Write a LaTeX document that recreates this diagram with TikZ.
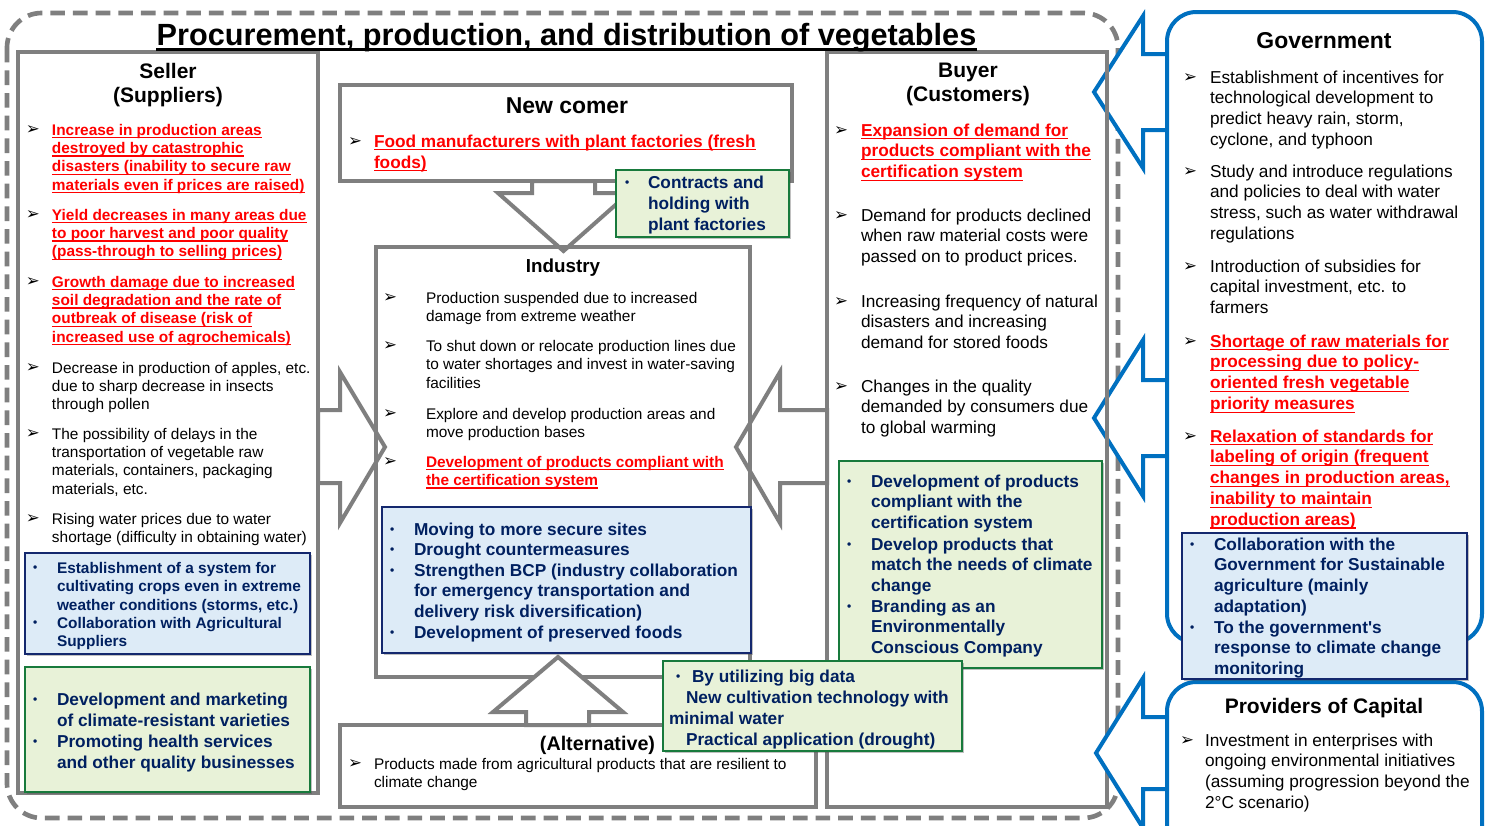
\documentclass[tikz,border=0pt]{standalone}
\usepackage{fontspec}
\setmainfont{Liberation Sans}[Ligatures=TeXOff]
\newfontfamily\dejavu{DejaVu Sans}
\usetikzlibrary{shadows}
\newdimen\px \px=0.75pt
\definecolor{bxgray}{RGB}{127,127,127}
\definecolor{mblue}{RGB}{0,112,192}
\definecolor{navy}{RGB}{0,32,96}
\definecolor{bfill}{RGB}{221,235,247}
\definecolor{gfill}{RGB}{232,242,216}
\definecolor{gline}{RGB}{24,122,60}
\definecolor{bline}{RGB}{20,40,110}
\definecolor{ured}{RGB}{255,0,0}
\newsavebox\ulbox
\newcommand\R[1]{{\color{ured}\bfseries\sbox\ulbox{#1}\rlap{\usebox\ulbox}\rule[-2.5pt]{\wd\ulbox}{0.9pt}}}
\newcommand\ARB{\raisebox{0.3pt}{\dejavu\fontsize{12.5}{12.5}\selectfont ➢}}
\newcommand\DTB{\raisebox{1pt}{\fontsize{9}{9}\selectfont •}}
\newcommand\itm[6][]{\node[itm,#1] (#2) at (#3,#4) {\parbox[t]{600\px}{\hangindent=#5\px\hangafter=1\noindent\makebox[#5\px][l]{\ARB}#6}};}
\newcommand\ditm[6][]{\node[itm,#1] (#2) at (#3,#4) {\parbox[t]{600\px}{\hangindent=#5\px\hangafter=1\noindent\makebox[#5\px][l]{\DTB}#6}};}
\begin{document}
\begin{tikzpicture}[x=0.75pt,y=-0.75pt,
 itm/.style={anchor=base west,inner sep=0pt,outer sep=0pt},
 sm/.style={font=\fontsize{11.55}{13.75}\selectfont},
 smb/.style={font=\fontsize{11.55}{13.9}\selectfont\bfseries,text=navy},
 bg/.style={font=\fontsize{12.94}{15.6}\selectfont},
 bgb/.style={font=\fontsize{12.94}{15.6}\selectfont\bfseries,text=navy},
 gbox/.style={draw=bxgray,line width=3pt,fill=white},
 garrow/.style={draw=bxgray,line width=3pt,fill=white,line join=miter},
 barrow/.style={draw=mblue,line width=3pt,fill=white,line join=miter},
 shd/.style={drop shadow={shadow xshift=1.5pt,shadow yshift=-1.5pt,opacity=0.35,fill=black!70}},
 bluebox/.style={draw=bline,line width=1.5pt,fill=bfill,shd},
 greenbox/.style={draw=gline,line width=1.5pt,fill=gfill,shd},
 rbox/.style={draw=mblue,line width=3pt,fill=white,rounded corners=22pt},
 hdr/.style={anchor=base,inner sep=0pt}
]
\useasboundingbox (0,0) rectangle (1489,825);
\fill[white] (0,0) rectangle (1489,825);
\begin{scope}
\clip (0,0) rectangle (1489,825);
% outer dashed frame
\draw[bxgray,line width=3.5pt,dash pattern=on 11pt off 6pt,rounded corners=26pt] (7,13) rectangle (1118,818);
% main gray boxes
\draw[gbox] (18,52) rectangle (318,793);
\draw[gbox] (827,52) rectangle (1107,807);
\draw[gbox] (340,85) rectangle (792,181);
\draw[gbox] (340,725) rectangle (816,807);
\fill[white] (376,247) rectangle (750,677);
% gray block arrows
\draw[garrow] (318,410) -- (340,410) -- (340,372) -- (385,447) -- (340,523) -- (340,483) -- (318,483) -- cycle;
\draw[garrow] (827,410) -- (780,410) -- (780,372) -- (736,447) -- (780,523) -- (780,483) -- (827,483) -- cycle;
\draw[garrow] (532,181) -- (532,193) -- (498,193) -- (563.5,251) -- (629,193) -- (595,193) -- (595,181) -- cycle;
\draw[bxgray,line width=3pt] (376,247) rectangle (750,677);
\draw[garrow] (526,725) -- (526,712) -- (493,712) -- (558,657) -- (623,712) -- (589,712) -- (589,725) -- cycle;
% coloured boxes
\draw[bluebox] (25,553) rectangle (310,654);
\draw[greenbox] (25,667) rectangle (310,792);
\draw[greenbox] (616,170) rectangle (789,237);
\draw[bluebox] (382,507) rectangle (751,653);
\draw[greenbox] (839,461) rectangle (1102,668);
\draw[greenbox] (663,661) rectangle (962,751);
% blue block arrows
\draw[barrow] (1167,54) -- (1143,54) -- (1143,16) -- (1094,92) -- (1143,168) -- (1143,130) -- (1167,130) -- cycle;
\draw[barrow] (1167,380) -- (1143,380) -- (1143,340) -- (1094,418) -- (1143,496) -- (1143,456) -- (1167,456) -- cycle;
\draw[barrow] (1167,717) -- (1143,717) -- (1143,678) -- (1096,753) -- (1143,828) -- (1143,789) -- (1167,789) -- cycle;
\draw[bxgray,line width=3pt] (1107,52) -- (1107,461);
% government and capital boxes
\draw[rbox] (1167,12) rectangle (1482,643);
\draw[rbox] (1167,682) rectangle (1482,880);
\draw[bluebox] (1182,533) rectangle (1467,679);
\end{scope}
% title
\node[hdr,font=\fontsize{23}{27}\selectfont\bfseries] (title) at (566.5,45) {Procurement, production, and distribution of vegetables};
\draw[line width=2.2pt] ([yshift=-3.4pt]title.base west) -- ([yshift=-3.4pt]title.base east);
% seller
\node[hdr,font=\fontsize{15.75}{18}\selectfont\bfseries] (sellh) at (168,78) {\parbox[t]{280\px}{\centering Seller\\(Suppliers)}};
\itm[sm]{s1}{26}{135}{26}{\R{Increase in production areas}\\\R{destroyed by catastrophic}\\\R{disasters (inability to secure raw}\\\R{materials even if prices are raised)}}
\itm[sm]{s2}{26}{220}{26}{\R{Yield decreases in many areas due}\\\R{to poor harvest and poor quality}\\\R{(pass-through to selling prices)}}
\itm[sm]{s3}{26}{287}{26}{\R{Growth damage due to increased}\\\R{soil degradation and the rate of}\\\R{outbreak of disease (risk of}\\\R{increased use of agrochemicals)}}
\itm[sm]{s4}{26}{373}{26}{Decrease in production of apples, etc.\\due to sharp decrease in insects\\through pollen}
\itm[sm]{s5}{26}{439}{26}{The possibility of delays in the\\transportation of vegetable raw\\materials, containers, packaging\\materials, etc.}
\itm[sm]{s6}{26}{524}{26}{Rising water prices due to water\\shortage (difficulty in obtaining water)}
\ditm[smb]{sb1}{33}{573}{24}{Establishment of a system for\\cultivating crops even in extreme\\weather conditions (storms, etc.)}
\ditm[smb]{sb2}{33}{628}{24}{Collaboration with Agricultural\\Suppliers}
\ditm[bgb,font=\fontsize{12.94}{15.75}\selectfont\bfseries]{sg1}{33}{705}{24}{Development and marketing\\of climate-resistant varieties}
\ditm[bgb,font=\fontsize{12.94}{15.75}\selectfont\bfseries]{sg2}{33}{747}{24}{Promoting health services\\and other quality businesses}
% new comer
\node[hdr,font=\fontsize{17.2}{20}\selectfont\bfseries] (newh) at (567,113) {New comer};
\itm[bg,font=\fontsize{12.94}{15.75}\selectfont]{n1}{348}{147}{26}{\R{Food manufacturers with plant factories (fresh}\\\R{foods)}}
\ditm[bgb,font=\fontsize{12.94}{15.75}\selectfont\bfseries]{ct}{625}{188}{23}{Contracts and\\holding with\\plant factories}
% industry
\node[hdr,font=\fontsize{14.1}{17}\selectfont\bfseries] (indh) at (563,272) {Industry};
\itm[sm,font=\fontsize{11.55}{14}\selectfont]{i1}{383}{303}{43}{Production suspended due to increased\\damage from extreme weather}
\itm[sm,font=\fontsize{11.55}{13.9}\selectfont]{i2}{383}{351}{43}{To shut down or relocate production lines due\\to water shortages and invest in water-saving\\facilities}
\itm[sm,font=\fontsize{11.55}{13.7}\selectfont]{i3}{383}{419}{43}{Explore and develop production areas and\\move production bases}
\itm[sm,font=\fontsize{11.55}{13.7}\selectfont]{i4}{383}{467}{43}{\R{Development of products compliant with}\\\R{the certification system}}
\ditm[bgb,font=\fontsize{12.94}{15.5}\selectfont\bfseries]{ib1}{390}{535}{24}{Moving to more secure sites}
\ditm[bgb,font=\fontsize{12.94}{15.5}\selectfont\bfseries]{ib2}{390}{555}{24}{Drought countermeasures}
\ditm[bgb,font=\fontsize{12.94}{15.5}\selectfont\bfseries]{ib3}{390}{576}{24}{Strengthen BCP (industry collaboration\\for emergency transportation and\\delivery risk diversification)}
\ditm[bgb,font=\fontsize{12.94}{15.5}\selectfont\bfseries]{ib4}{390}{638}{24}{Development of preserved foods}
% alternative
\node[hdr,font=\fontsize{14.8}{17}\selectfont\bfseries] (alth) at (597.5,750) {(Alternative)};
\itm[sm,font=\fontsize{11.55}{14.2}\selectfont]{a1}{348}{769}{26}{Products made from agricultural products that are resilient to\\climate change}
\node[itm,bgb,font=\fontsize{12.94}{15.75}\selectfont\bfseries] (bd) at (669,682) {\parbox[t]{300\px}{\hspace*{7\px}\makebox[16\px][l]{\DTB}By utilizing big data\\\hspace*{17\px}New cultivation technology with\\minimal water\\\hspace*{17\px}Practical application (drought)}};
% buyer
\node[hdr,font=\fontsize{15.75}{18.5}\selectfont\bfseries] (buyh) at (968,77) {\parbox[t]{280\px}{\centering Buyer\\(Customers)}};
\itm[bg]{b1}{834}{136}{27}{\R{Expansion of demand for}\\\R{products compliant with the}\\\R{certification system}}
\itm[bg]{b2}{834}{221}{27}{Demand for products declined\\when raw material costs were\\passed on to product prices.}
\itm[bg]{b3}{834}{307}{27}{Increasing frequency of natural\\disasters and increasing\\demand for stored foods}
\itm[bg]{b4}{834}{392}{27}{Changes in the quality\\demanded by consumers due\\to global warming}
\ditm[bgb]{bg1}{847}{487}{24}{Development of products\\compliant with the\\certification system}
\ditm[bgb]{bg2}{847}{550}{24}{Develop products that\\match the needs of climate\\change}
\ditm[bgb]{bg3}{847}{612}{24}{Branding as an\\Environmentally\\Conscious Company}
% government
\node[hdr,font=\fontsize{17.2}{20}\selectfont\bfseries] (govh) at (1324,48) {Government};
\itm[bg]{g1}{1183}{83}{27}{Establishment of incentives for\\technological development to\\predict heavy rain, storm,\\cyclone, and typhoon}
\itm[bg]{g2}{1183}{177}{27}{Study and introduce regulations\\and policies to deal with water\\stress, such as water withdrawal\\regulations}
\itm[bg]{g3}{1183}{272}{27}{Introduction of subsidies for\\capital investment, etc. to\\farmers}
\itm[bg]{g4}{1183}{347}{27}{\R{Shortage of raw materials for}\\\R{processing due to policy-}\\\R{oriented fresh vegetable}\\\R{priority measures}}
\itm[bg]{g5}{1183}{442}{27}{\R{Relaxation of standards for}\\\R{labeling of origin (frequent}\\\R{changes in production areas,}\\\R{inability to maintain}\\\R{production areas)}}
\ditm[bgb]{gb1}{1190}{550}{24}{Collaboration with the\\Government for Sustainable\\agriculture (mainly\\adaptation)}
\ditm[bgb]{gb2}{1190}{633}{24}{To the government's\\response to climate change\\monitoring}
% providers of capital
\node[hdr,font=\fontsize{15.75}{18}\selectfont\bfseries] (caph) at (1324,713) {Providers of Capital};
\itm[bg]{p1}{1180}{746}{25}{Investment in enterprises with\\ongoing environmental initiatives\\(assuming progression beyond the\\2°C scenario)}
\end{tikzpicture}
\end{document}
